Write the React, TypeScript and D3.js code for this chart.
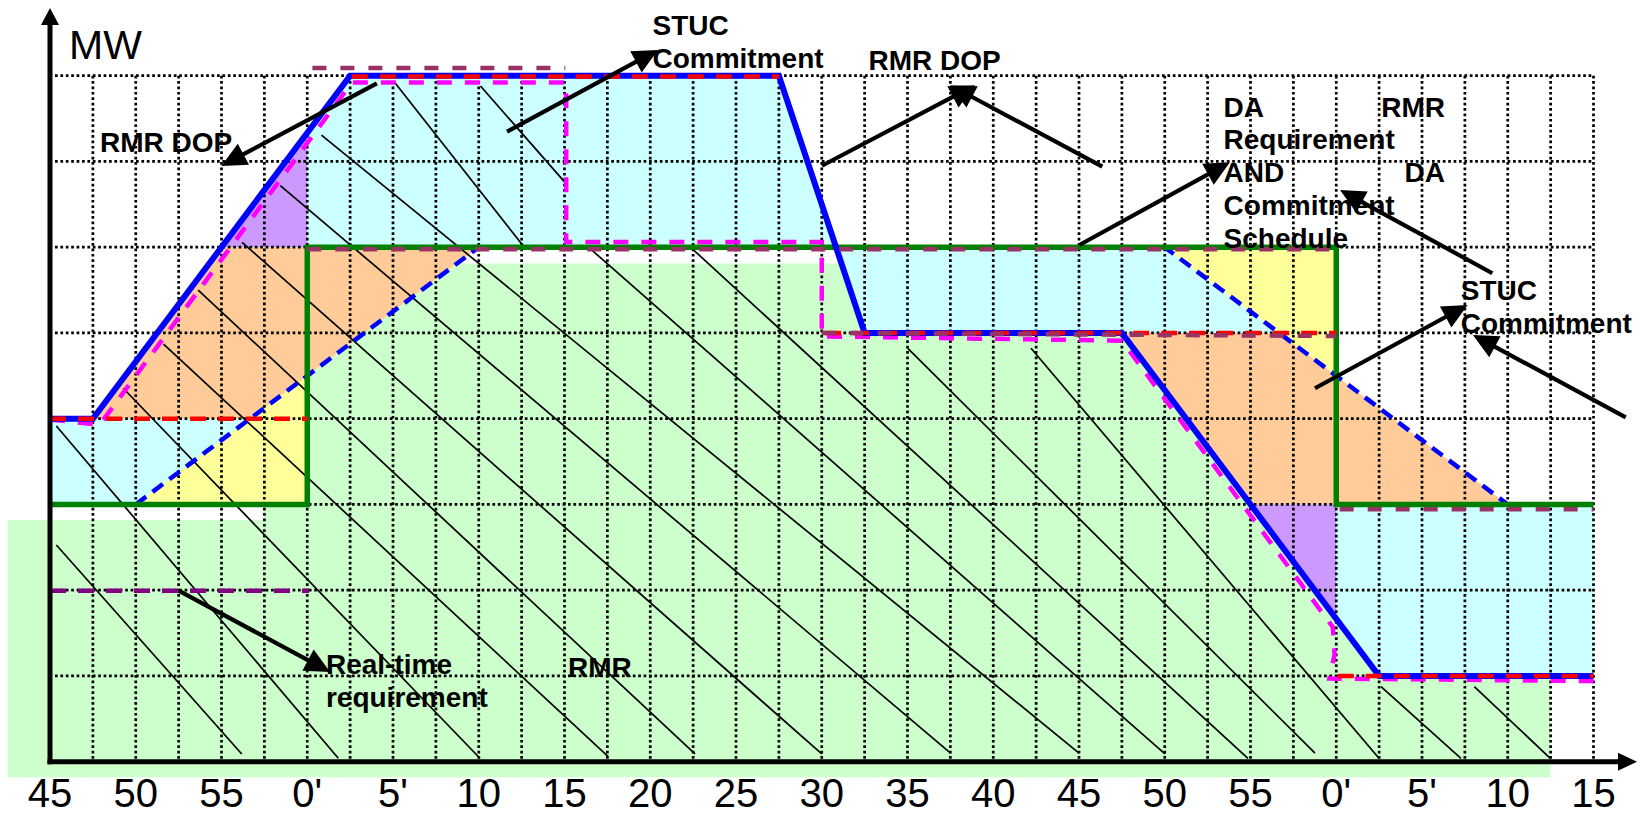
import React from 'react';
import * as d3 from 'd3';

type P = [number, number];

// ---------- axis ----------
const tickMinutes = [0, 5, 10, 15, 20, 25, 30, 35, 40, 45, 50, 55, 60, 65, 70, 75, 80, 85, 90];
const tickLabels = ["45", "50", "55", "0'", "5'", "10", "15", "20", "25", "30", "35", "40", "45", "50", "55", "0'", "5'", "10", "15"];
const mwLevels = [1, 2, 3, 4, 5, 6, 7, 8];

// ---------- series (t = minutes from first tick, v = MW grid units) ----------
const rmrDop: P[] = [[0, 4], [2.5, 4], [17.5, 8], [42.5, 8], [47.5, 5], [62.5, 5], [77.5, 1], [90, 1]];
const daRequirement: P[] = [[0, 3], [15, 3], [15, 6], [75, 6], [75, 3], [90, 3]];
const stucCommitment: P[] = [[5, 3], [25, 6], [65, 6], [85, 3]];
const realTimeSchedule: P[] = [[0, 3.99], [2.9, 3.93], [17.6, 7.92], [30.1, 7.92], [30.1, 6.06], [45, 6.06], [45, 4.96], [62.5, 4.91], [74.8, 1.57], [74.9, 1.25], [74.6, 0.97], [90, 0.94]];
const dopTargets: P[][] = [
  [[0, 4.0], [15, 4.0]],
  [[17.6, 7.99], [42.5, 7.99]],
  [[45.2, 5.0], [75, 5.0]],
  [[75.08, 1.0], [90, 1.0]],
];
const daSchedule: P[][] = [
  [[15.3, 8.09], [30.05, 8.09]],
  [[15, 5.975], [75, 5.975]],
  [[45, 5.0], [75, 4.965]],
  [[75.2, 2.943], [90, 2.943]],
];
const realTimeRequirement: P[] = [[0, 1.994], [15.1, 1.994]];

// ---------- shaded areas ----------
const rmrArea: P[] = [[-2.45, -0.18], [-2.45, 2.82], [12.48, 2.82], [12.48, 2.97], [15, 2.97], [15, 4.5], [23.73, 5.81], [46.15, 5.81], [47.5, 5], [62.5, 5], [77.5, 1], [87.48, 1], [87.48, -0.18]];
const cyanAreas: P[][] = [
  [[0, 3], [0, 4], [11.67, 4], [5, 3]],
  [[15, 6], [15, 7.333], [17.5, 8], [42.5, 8], [45.833, 6]],
  [[45.833, 6], [47.5, 5], [71.667, 5], [65, 6]],
  [[75, 3], [90, 3], [90, 1], [77.5, 1], [75, 1.667]],
];
const yellowAreas: P[][] = [
  [[5, 3], [15, 3], [15, 4.5]],
  [[65, 6], [75, 6], [75, 4.5]],
];
const peachAreas: P[][] = [
  [[2.5, 4], [10, 6], [25, 6], [11.667, 4]],
  [[62.5, 5], [71.667, 5], [85, 3], [70, 3]],
];
const violetAreas: P[][] = [
  [[10, 6], [15, 6], [15, 7.333]],
  [[70, 3], [75, 3], [75, 1.667]],
];

// ---------- RMR hatch lines [t1, v1, t2, v2] ----------
const hatchLines: [number, number, number, number][] = [
  [0.37, 2.527, 11.18, 0.09],
  [0.37, 3.915, 16.81, 0.04],
  [4.27, 4.355, 25.07, 0.04],
  [6.62, 4.871, 32.55, 0.06],
  [8.64, 5.5, 37.61, 0.09],
  [11.2, 6.057, 45.0, 0.09],
  [13.43, 6.717, 52.51, 0.1],
  [15.83, 7.308, 60.0, 0.1],
  [20.09, 7.923, 27.7, 5.987],
  [25.1, 7.88, 30.13, 6.733],
  [31.59, 5.967, 65.01, 0.09],
  [37.42, 5.987, 69.85, 0.04],
  [50.02, 4.821, 73.76, 0.1],
  [57.2, 4.821, 77.49, 0.04],
  [77.61, 0.875, 82.27, 0.04],
  [83.05, 0.875, 87.48, 0.04],
];

// ---------- annotations ----------
const noteTexts: { lines: string[]; t: number; v: number; anchor?: string }[] = [
  { lines: ["RMR DOP"], t: 2.92, v: 7.11 },
  { lines: ["STUC", "Commitment"], t: 35.13, v: 8.475 },
  { lines: ["RMR DOP"], t: 47.73, v: 8.066 },
  { lines: ["DA", "Requirement", "AND", "Commitment", "Schedule"], t: 68.43, v: 7.522 },
  { lines: ["RMR"], t: 81.34, v: 7.522, anchor: "end" },
  { lines: ["DA"], t: 81.34, v: 6.764, anchor: "end" },
  { lines: ["STUC", "Commitment"], t: 82.26, v: 5.384 },
  { lines: ["Real-time", "requirement"], t: 16.09, v: 1.023 },
  { lines: ["RMR"], t: 30.2, v: 0.991 },
];
const noteArrows: [number, number, number, number][] = [
  [19.06, 7.911, 9.99, 6.947],
  [26.65, 7.347, 35.45, 8.3],
  [45.01, 6.95, 53.94, 7.89],
  [61.36, 6.939, 52.48, 7.89],
  [60.02, 6.026, 68.8, 6.99],
  [84.1, 5.696, 75.22, 6.667],
  [73.76, 4.355, 82.66, 5.326],
  [91.88, 4.016, 82.97, 4.977],
  [7.5, 1.994, 16.33, 1.046],
];

const W = 1641;
const H = 816;
const FONT = "'Liberation Sans', Arial, Helvetica, sans-serif";

const x = d3.scaleLinear().domain([0, 90]).range([50, 1593.5]);
const y = d3.scaleLinear().domain([0, 8]).range([761.7, 75.7]);
const lineGen = d3.line<P>().x(d => x(d[0])).y(d => y(d[1]));
const area = (pts: P[]) => (lineGen(pts) || '') + 'Z';

function Arrow({ a }: { a: [number, number, number, number] }) {
  const x1 = x(a[0]), y1 = y(a[1]), x2 = x(a[2]), y2 = y(a[3]);
  const dx = x2 - x1, dy = y2 - y1;
  const len = Math.hypot(dx, dy);
  const ux = dx / len, uy = dy / len;
  const L = 25, hw = 12;
  const bx = x2 - ux * L, by = y2 - uy * L;
  const nx = -uy, ny = ux;
  return (
    <g>
      <line x1={x1} y1={y1} x2={bx + ux * 3} y2={by + uy * 3} stroke="#000" strokeWidth={4.2} />
      <polygon points={`${x2},${y2} ${bx + nx * hw},${by + ny * hw} ${bx - nx * hw},${by - ny * hw}`} fill="#000" />
    </g>
  );
}

export default function App() {
  const gridT = d3.range(2.5, 90.01, 2.5);
  return (
    <svg width={W} height={H} style={{ position: 'absolute', left: 0, top: 0, background: '#fff' }} fontFamily={FONT}>
      <rect x={0} y={0} width={W} height={H} fill="#fff" />
      {/* fills */}
      <path d={area(rmrArea)} fill="#CCFFCC" />
      {cyanAreas.map((p, i) => <path key={'c' + i} d={area(p)} fill="#CCFFFF" />)}
      {yellowAreas.map((p, i) => <path key={'y' + i} d={area(p)} fill="#FFFF99" />)}
      {peachAreas.map((p, i) => <path key={'p' + i} d={area(p)} fill="#FFCC99" />)}
      {violetAreas.map((p, i) => <path key={'v' + i} d={area(p)} fill="#CC99FF" />)}

      {/* dotted grid */}
      <g stroke="#000" strokeWidth={2.7} strokeDasharray="2.7 2.7" fill="none">
        {mwLevels.map(v => (
          <line key={'h' + v} x1={x(0) + 5} x2={x(90)} y1={y(v)} y2={y(v)} />
        ))}
        {gridT.map(t => (
          <line key={'g' + t} x1={x(t)} x2={x(t)} y1={y(8)} y2={y(0)} />
        ))}
      </g>

      {/* hatch */}
      <g stroke="#000" strokeWidth={1.7}>
        {hatchLines.map((h, i) => (
          <line key={'hl' + i} x1={x(h[0])} y1={y(h[1])} x2={x(h[2])} y2={y(h[3])} />
        ))}
      </g>

      {/* lines */}
      <path d={lineGen(stucCommitment) || ''} fill="none" stroke="#0000FF" strokeWidth={4.5} strokeDasharray="13 8" />
      <path d={lineGen(daRequirement) || ''} fill="none" stroke="#008000" strokeWidth={5.5} />
      <path d={lineGen(realTimeSchedule) || ''} fill="none" stroke="#FF00FF" strokeWidth={4.5} strokeDasharray="15 13" />
      <path d={lineGen(rmrDop) || ''} fill="none" stroke="#0000FF" strokeWidth={6} strokeLinejoin="miter" />
      {dopTargets.map((s, i) => (
        <path key={'r' + i} d={lineGen(s) || ''} fill="none" stroke="#FF0000" strokeWidth={4.5} strokeDasharray="16 12" />
      ))}
      {daSchedule.map((s, i) => (
        <path key={'m' + i} d={lineGen(s) || ''} fill="none" stroke="#993366" strokeWidth={4.5} strokeDasharray="14 14" />
      ))}
      <path d={lineGen(realTimeRequirement) || ''} fill="none" stroke="#800080" strokeWidth={4.5} strokeDasharray="16 12" />

      {/* axes */}
      <line x1={x(0)} y1={y(0) + 2.5} x2={x(0)} y2={24} stroke="#000" strokeWidth={5} />
      <polygon points={`${x(0) - 9},25 ${x(0)},8 ${x(0) + 9},25`} fill="#000" />
      <line x1={x(0) - 2.5} y1={y(0)} x2={1619} y2={y(0)} stroke="#000" strokeWidth={5} />
      <polygon points={`1618,${y(0) - 9} 1637,${y(0)} 1618,${y(0) + 9}`} fill="#000" />
      <text x={69} y={59.3} fontSize={41}>MW</text>
      {tickMinutes.map((t, i) => (
        <text key={'t' + i} x={x(t)} y={807} fontSize={40} textAnchor="middle">{tickLabels[i]}</text>
      ))}

      {/* annotations */}
      {noteArrows.map((a, i) => <Arrow key={'a' + i} a={a} />)}
      {noteTexts.map((n, i) => (
        <text key={'n' + i} x={x(n.t)} y={y(n.v)} fontSize={28} fontWeight="bold" textAnchor={n.anchor || 'start'}>
          {n.lines.map((l, j) => (
            <tspan key={j} x={x(n.t)} dy={j === 0 ? 0 : 32.8}>{l}</tspan>
          ))}
        </text>
      ))}
    </svg>
  );
}
